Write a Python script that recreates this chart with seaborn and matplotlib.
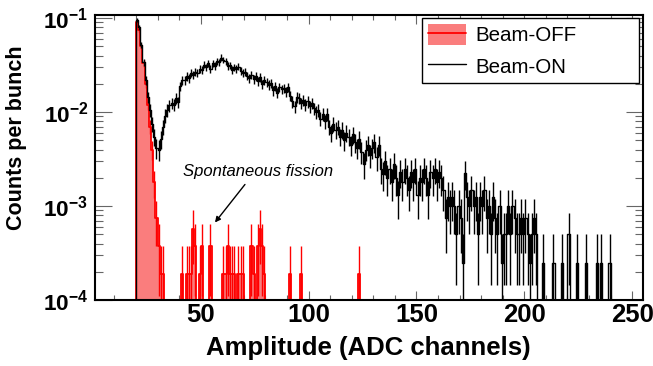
import numpy as np
import matplotlib
matplotlib.use("Agg")
import matplotlib.pyplot as plt
from matplotlib.ticker import MultipleLocator, LogLocator, NullFormatter
from matplotlib.patches import Patch
from matplotlib.lines import Line2D
import seaborn as sns

# ---------------- data ----------------
on_first_bin = 20
beam_on = [
    0.095, 0.080, 0.052, 0.034, 0.022, 0.0145, 0.0105, 0.0075, 0.0055, 0.0042,
    0.0040, 0.0052, 0.0070, 0.0092, 0.0105, 0.0118, 0.0125, 0.0120, 0.0140, 0.0128,
    0.0190, 0.0220, 0.0220, 0.0240, 0.0230, 0.0260, 0.0250, 0.0270, 0.0260, 0.0290,
    0.0280, 0.0320, 0.0300, 0.0330, 0.0290, 0.0330, 0.0310, 0.0350, 0.0340, 0.0380,
    0.0360, 0.0350, 0.0310, 0.0315, 0.0280, 0.0300, 0.0290, 0.0305, 0.0275, 0.0260,
    0.0270, 0.0245, 0.0230, 0.0250, 0.0225, 0.0240, 0.0215, 0.0235, 0.0200, 0.0220,
    0.0210, 0.0195, 0.0205, 0.0170, 0.0190, 0.0160, 0.0185, 0.0175, 0.0180, 0.0165,
    0.0185, 0.0150, 0.0130, 0.0115, 0.0145, 0.0140, 0.0125, 0.0135, 0.0120, 0.0130,
    0.0115, 0.0125, 0.0110, 0.0100, 0.0105, 0.0085, 0.0095, 0.0080, 0.0095, 0.0070,
    0.0060, 0.0075, 0.0065, 0.0070, 0.0055, 0.0065, 0.0050, 0.0060, 0.0055, 0.0045,
    0.0058, 0.0048, 0.0042, 0.0052, 0.0038, 0.0028, 0.0040, 0.0045, 0.0035, 0.0042,
    0.0048, 0.0033, 0.0045, 0.0025, 0.0022, 0.0030, 0.0020, 0.0025, 0.0018, 0.0028,
    0.0020, 0.0013, 0.0023, 0.0018, 0.0025, 0.0020, 0.0015, 0.0023, 0.0018, 0.0025,
    0.0013, 0.0020, 0.0018, 0.0025, 0.0020, 0.0013, 0.0023, 0.0020, 0.0025, 0.0018,
    0.0023, 0.0020, 0.0015, 0.00075, 0.00125, 0.0010, 0.00125, 0.0010, 0.0005, 0.0010,
    0.00075, 0.00025, 0.00225, 0.00125, 0.0010, 0.0015, 0.0010, 0.00125, 0.0005, 0.00125,
    0.0010, 0.0015, 0.00075, 0.0010, 0.0005, 0.00125, 0.00075, 0.0005, 0.0010, 0.00025,
    0.0005, 0.0005, 0.0010, 0.0005, 0.0010, 0.00075, 0.0005, 0.0005, 0.00075, 0.0005,
    0.00075, 0.0005, 0.00025, 0.0005, 0.00075, 0.0005, 0.0, 0.0, 0.00025, 0.0,
    0.0, 0.0, 0.0, 0.00025, 0.0, 0.0, 0.0, 0.00025, 0.0, 0.0,
    0.0005, 0.0, 0.0, 0.0, 0.00025, 0.0, 0.0, 0.0, 0.00025, 0.0,
    0.0, 0.0, 0.0, 0.00025, 0.0, 0.00025, 0.0, 0.0, 0.0, 0.00025,
    0.0,
]
on_unit = 2.5e-4          # one count per bunch (Beam-ON)

off_first_bin = 20
off_last_bin = 205
beam_off_peak = [0.092, 0.075, 0.050, 0.033, 0.020, 0.012, 0.0070, 0.0040,
                 0.0018, 0.00075, 0.00038, 0.00019, 0.00019]
off_spike_bins = [41, 43, 44, 45, 46, 47, 49, 50, 54, 60, 61, 62, 63, 64, 65,
                  67, 68, 69, 73, 74, 76, 77, 78, 79, 91, 96, 123]
off_spike_counts = [1, 1, 1, 1, 3, 2, 1, 2, 2, 1, 1, 2, 1, 1, 1,
                    1, 1, 1, 2, 1, 2, 3, 2, 1, 1, 1, 1]
off_unit = 1.9e-4         # one count per bunch (Beam-OFF)

x_ticks = [50, 100, 150, 200, 250]
y_ticks = [1e-4, 1e-3, 1e-2, 1e-1]
y_ticklabels = [r"$\mathbf{10^{-4}}$", r"$\mathbf{10^{-3}}$",
                r"$\mathbf{10^{-2}}$", r"$\mathbf{10^{-1}}$"]

# ---------------- build histograms ----------------
on_vals = np.array(beam_on)
on_edges = np.arange(on_first_bin, on_first_bin + len(on_vals) + 1)
on_centers = on_edges[:-1] + 0.5

off_vals = np.zeros(off_last_bin - off_first_bin + 1)
off_vals[:len(beam_off_peak)] = beam_off_peak
for b, c in zip(off_spike_bins, off_spike_counts):
    off_vals[b - off_first_bin] = c * off_unit
off_edges = np.arange(off_first_bin, off_last_bin + 2)
off_centers = off_edges[:-1] + 0.5

YMIN, YMAX = 1e-4, 0.108

# ---------------- style ----------------
sns.set_theme(style="ticks")
plt.rcParams["font.family"] = ["Liberation Sans", "DejaVu Sans"]
plt.rcParams["mathtext.fontset"] = "custom"
plt.rcParams["mathtext.rm"] = "Liberation Sans"
plt.rcParams["mathtext.bf"] = "Liberation Sans:bold"
plt.rcParams["mathtext.it"] = "Liberation Sans:italic"
for k in ["text.color", "axes.labelcolor", "xtick.color", "ytick.color",
          "xtick.labelcolor", "ytick.labelcolor"]:
    plt.rcParams[k] = "black"

fig = plt.figure(figsize=(6.53, 3.66), dpi=100)
ax = fig.add_axes([0.1455, 0.180, 0.8392, 0.779])
ax.set_yscale("log")

def step_xy(edges, vals):
    disp = np.maximum(vals, YMIN)
    x = np.r_[edges[0], edges]
    y = np.r_[YMIN, disp, YMIN]
    return x, y, disp

FILL = "#fa7d7d"

# Beam-OFF filled histogram
ox, oy, odisp = step_xy(off_edges, off_vals)
ax.fill_between(off_edges, np.r_[odisp, odisp[-1]], YMIN, step="post",
                facecolor=FILL, linewidth=0, zorder=1)
sns.lineplot(x=ox, y=oy, drawstyle="steps-post", color="red", linewidth=1.3,
             estimator=None, sort=False, ax=ax, zorder=2)
m = off_vals > 0
off_err = np.sqrt(off_vals[m] * off_unit)
ax.errorbar(off_centers[m], off_vals[m],
            yerr=[np.minimum(off_err, off_vals[m] - 1e-9), off_err],
            fmt="none", ecolor="red", elinewidth=1.0, zorder=2)

# Beam-ON histogram with error bars
nx, ny, ndisp = step_xy(on_edges, on_vals)
sns.lineplot(x=nx, y=ny, drawstyle="steps-post", color="black", linewidth=1.0,
             estimator=None, sort=False, ax=ax, zorder=3)
m = on_vals > 0
on_err = np.sqrt(on_vals[m] * on_unit)
ax.errorbar(on_centers[m], on_vals[m],
            yerr=[np.minimum(on_err, on_vals[m] - 1e-9), on_err],
            fmt="none", ecolor="black", elinewidth=1.0, zorder=3)

# ---------------- axes ----------------
ax.set_xlim(1, 255)
ax.set_ylim(YMIN, YMAX)
ax.set_xticks(x_ticks)
ax.set_xticklabels([str(t) for t in x_ticks], fontsize=18.5, fontweight="bold",
                   color="black")
ax.xaxis.set_minor_locator(MultipleLocator(10))
ax.set_yticks(y_ticks)
ax.set_yticklabels(y_ticklabels, fontsize=16.2, color="black")
ax.yaxis.set_minor_locator(LogLocator(base=10, subs=np.arange(2, 10)))
ax.yaxis.set_minor_formatter(NullFormatter())

ax.tick_params(axis="both", which="both", direction="in", top=True, right=True,
               color="#666666", width=0.8, labelcolor="black")
ax.tick_params(axis="x", which="major", length=6.5, pad=2)
ax.tick_params(axis="x", which="minor", length=3.6)
ax.tick_params(axis="y", which="major", length=12, pad=5)
ax.tick_params(axis="y", which="minor", length=5.8)
for s in ax.spines.values():
    s.set_linewidth(1.5)
    s.set_color("black")
    s.set_zorder(5)

ax.set_xlabel("Amplitude (ADC channels)", fontsize=18.5, fontweight="bold",
              color="black")
ax.xaxis.set_label_coords(0.499, -0.125)
ax.set_ylabel("Counts per bunch", fontsize=15.5, fontweight="bold",
              color="black")
ax.yaxis.set_label_coords(-0.143, 0.57)
ax.yaxis.label.set_verticalalignment("center")

# annotation
ax.text(76.5, 2.34e-3, "Spontaneous fission", fontsize=12, style="italic",
        ha="center", va="center", color="black")
ax.annotate("", xy=(56.6, 6.7e-4), xytext=(70.5, 1.7e-3),
            arrowprops=dict(arrowstyle="-|>", color="black", lw=1.0,
                            mutation_scale=8, shrinkA=0, shrinkB=0))

# legend
h_off = (Patch(facecolor=FILL, edgecolor="none"),
         Line2D([0], [0], color="red", lw=1.3))
h_on = Line2D([0], [0], color="black", lw=1.0)
leg = ax.legend([h_off, h_on], ["Beam-OFF", "Beam-ON"], loc="upper left",
                bbox_to_anchor=(0.597, 0.744, 0.396, 0.245), mode="expand",
                borderaxespad=0, fontsize=14.8, frameon=True, fancybox=False,
                handlelength=1.85, handleheight=1.15, handletextpad=0.42,
                labelspacing=0.5, borderpad=0.3, framealpha=1)
leg.get_frame().set_edgecolor("black")
leg.get_frame().set_linewidth(1.0)
for t in leg.get_texts():
    t.set_color("black")
leg.set_zorder(6)

fig.savefig("out.png", dpi=100)
